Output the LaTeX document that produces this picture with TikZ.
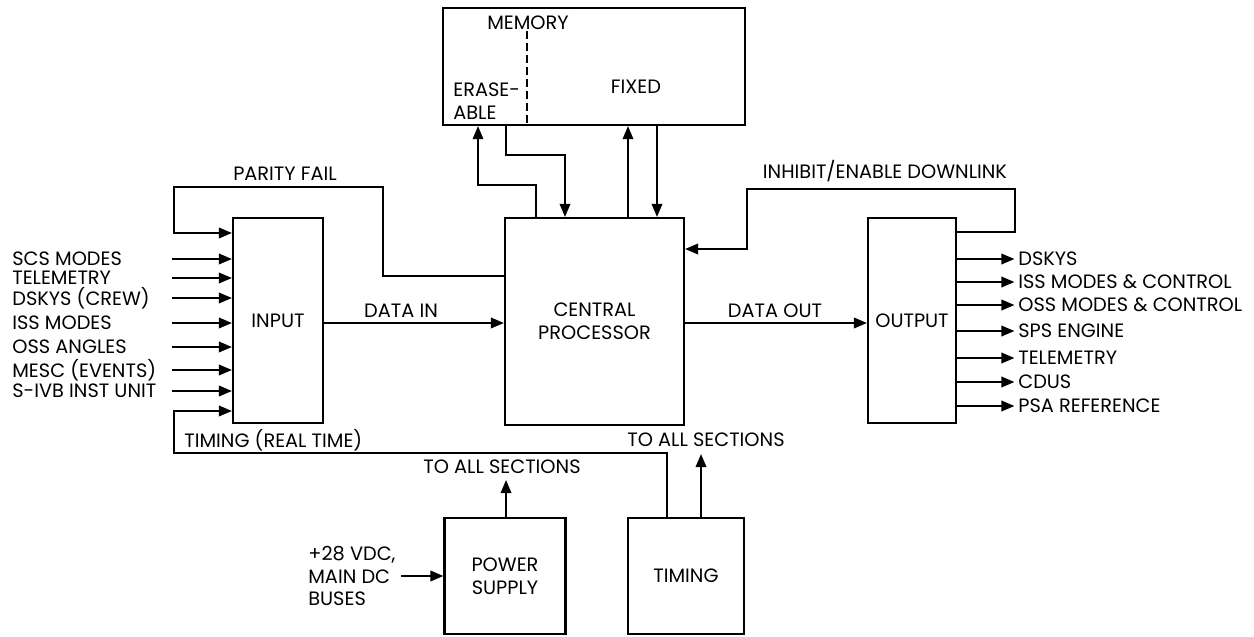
\documentclass[tikz,border=0pt]{standalone}
\usepackage{fontspec}
\setmainfont{Poppins}
\usepackage{tikz}
\usetikzlibrary{arrows.meta}

\begin{document}
\begin{tikzpicture}[x=0.02cm, y=-0.02cm, >={Triangle[length=7.5pt,width=6pt]},
  font=\fontsize{11}{13}\selectfont,
  blk/.style={draw, line width=1.2pt, inner sep=0pt, align=center},
  sig/.style={line width=1.2pt},
  lbl/.style={inner sep=0pt, align=left}]
  \useasboundingbox (0,0) rectangle (1254,636);

  % blocks
  \node[blk, minimum width=6.04cm, minimum height=2.34cm] (mem) at (594,66.5) {};
  \node[blk, minimum width=3.58cm, minimum height=4.14cm] (cp) at (594.5,321.5) {CENTRAL\\PROCESSOR};
  \node[blk, minimum width=1.8cm, minimum height=4.1cm] (in) at (278,320.5) {INPUT};
  \node[blk, minimum width=1.76cm, minimum height=4.1cm] (out) at (912,320.5) {OUTPUT};
  \node[blk, minimum width=2.42cm, minimum height=2.32cm] (pow) at (505,576) {POWER\\SUPPLY};
  \node[blk, minimum width=2.32cm, minimum height=2.32cm] (tim) at (686,576) {TIMING};

  % memory inside
  \node[lbl] (memlbl) at (528,23) {MEMORY};
  \node[lbl, anchor=west] (eras) at (453,101) {ERASE-\\ABLE};
  \node[lbl] (fixd) at (636,87) {FIXED};
  \coordinate (dv) at (527,31);
  \draw[line width=0.8pt, dash pattern=on 4.5pt off 2.3pt] (dv) -- (mem.south -| dv);

  % memory <-> central processor
  \coordinate (e1) at (536,185);
  \coordinate (e2) at (478,185);
  \draw[sig,->] (cp.north -| e1) -- (e1) -- (e2) -- (mem.south -| e2);
  \coordinate (r1) at (506,155);
  \coordinate (r2) at (565,155);
  \draw[sig,->] (mem.south -| r1) -- (r1) -- (r2) -- (cp.north -| r2);
  \coordinate (f1) at (628,0);
  \coordinate (f2) at (657,0);
  \draw[sig,->] (cp.north -| f1) -- (mem.south -| f1);
  \draw[sig,->] (mem.south -| f2) -- (cp.north -| f2);

  % parity fail
  \coordinate (p1) at (383,276);
  \coordinate (p2) at (383,187);
  \coordinate (p3) at (174,187);
  \coordinate (p4) at (174,233);
  \draw[sig,->] (cp.west |- p1) -- (p1) -- (p2) -- (p3) -- (p4) -- (in.west |- p4);
  \node[lbl] (parity) at (285,174) {PARITY FAIL};

  % inputs
  \foreach \y/\t [count=\i] in {259/SCS MODES, 278/TELEMETRY, 298/DSKYS (CREW),
      323/ISS MODES, 347/OSS ANGLES, 370/MESC (EVENTS), 391/S-IVB INST UNIT} {
    \node[lbl, anchor=west] (i\i) at (12,\y) {\t};
    \coordinate (is\i) at (172,\y);
    \draw[sig,->] (is\i) -- (in.west |- is\i);
  }

  % timing (real time)
  \coordinate (t1) at (667,453);
  \coordinate (t2) at (174,453);
  \coordinate (t3) at (174,411);
  \draw[sig,->] (tim.north -| t1) -- (t1) -- (t2) -- (t3) -- (in.west |- t3);
  \node[lbl, anchor=west] (rt) at (184,440) {TIMING (REAL TIME)};

  % data in / out
  \coordinate (din) at (414,323);
  \draw[sig,->] (in.east |- din) -- (cp.west |- din);
  \node[lbl] (dinl) at (401,311) {DATA IN};
  \coordinate (dout) at (777,323);
  \draw[sig,->] (cp.east |- dout) -- (out.west |- dout);
  \node[lbl] (doutl) at (775,311) {DATA OUT};

  % inhibit/enable downlink
  \coordinate (h1) at (1015,232);
  \coordinate (h2) at (1015,189);
  \coordinate (h3) at (747,189);
  \coordinate (h4) at (747,249);
  \draw[sig,->] (out.east |- h1) -- (h1) -- (h2) -- (h3) -- (h4) -- (cp.east |- h4);
  \node[lbl] (inh) at (885,171) {INHIBIT/ENABLE DOWNLINK};

  % outputs
  \foreach \y/\t [count=\i] in {259/DSKYS, 282/ISS MODES \& CONTROL, 305/OSS MODES \& CONTROL,
      331/SPS ENGINE, 358/TELEMETRY, 382/CDUS, 406/PSA REFERENCE} {
    \node[lbl, anchor=west] (o\i) at (1018,\y) {\t};
    \draw[sig,->] (out.east |- o\i.west) -- ([xshift=-2pt]o\i.west);
  }

  % power and timing to all sections
  \coordinate (pa) at (506,480);
  \draw[sig,->] (pow.north -| pa) -- (pa);
  \node[lbl] (powall) at (502,467) {TO ALL SECTIONS};
  \coordinate (ta) at (701,454);
  \draw[sig,->] (tim.north -| ta) -- (ta);
  \node[lbl] (timall) at (706,440) {TO ALL SECTIONS};

  \node[lbl, anchor=west] (vdc) at (308,576) {+28 VDC,\\MAIN DC\\BUSES};
  \draw[sig,->] ([xshift=3pt]vdc.east) -- (vdc.east -| pow.west);
\end{tikzpicture}
\end{document}
